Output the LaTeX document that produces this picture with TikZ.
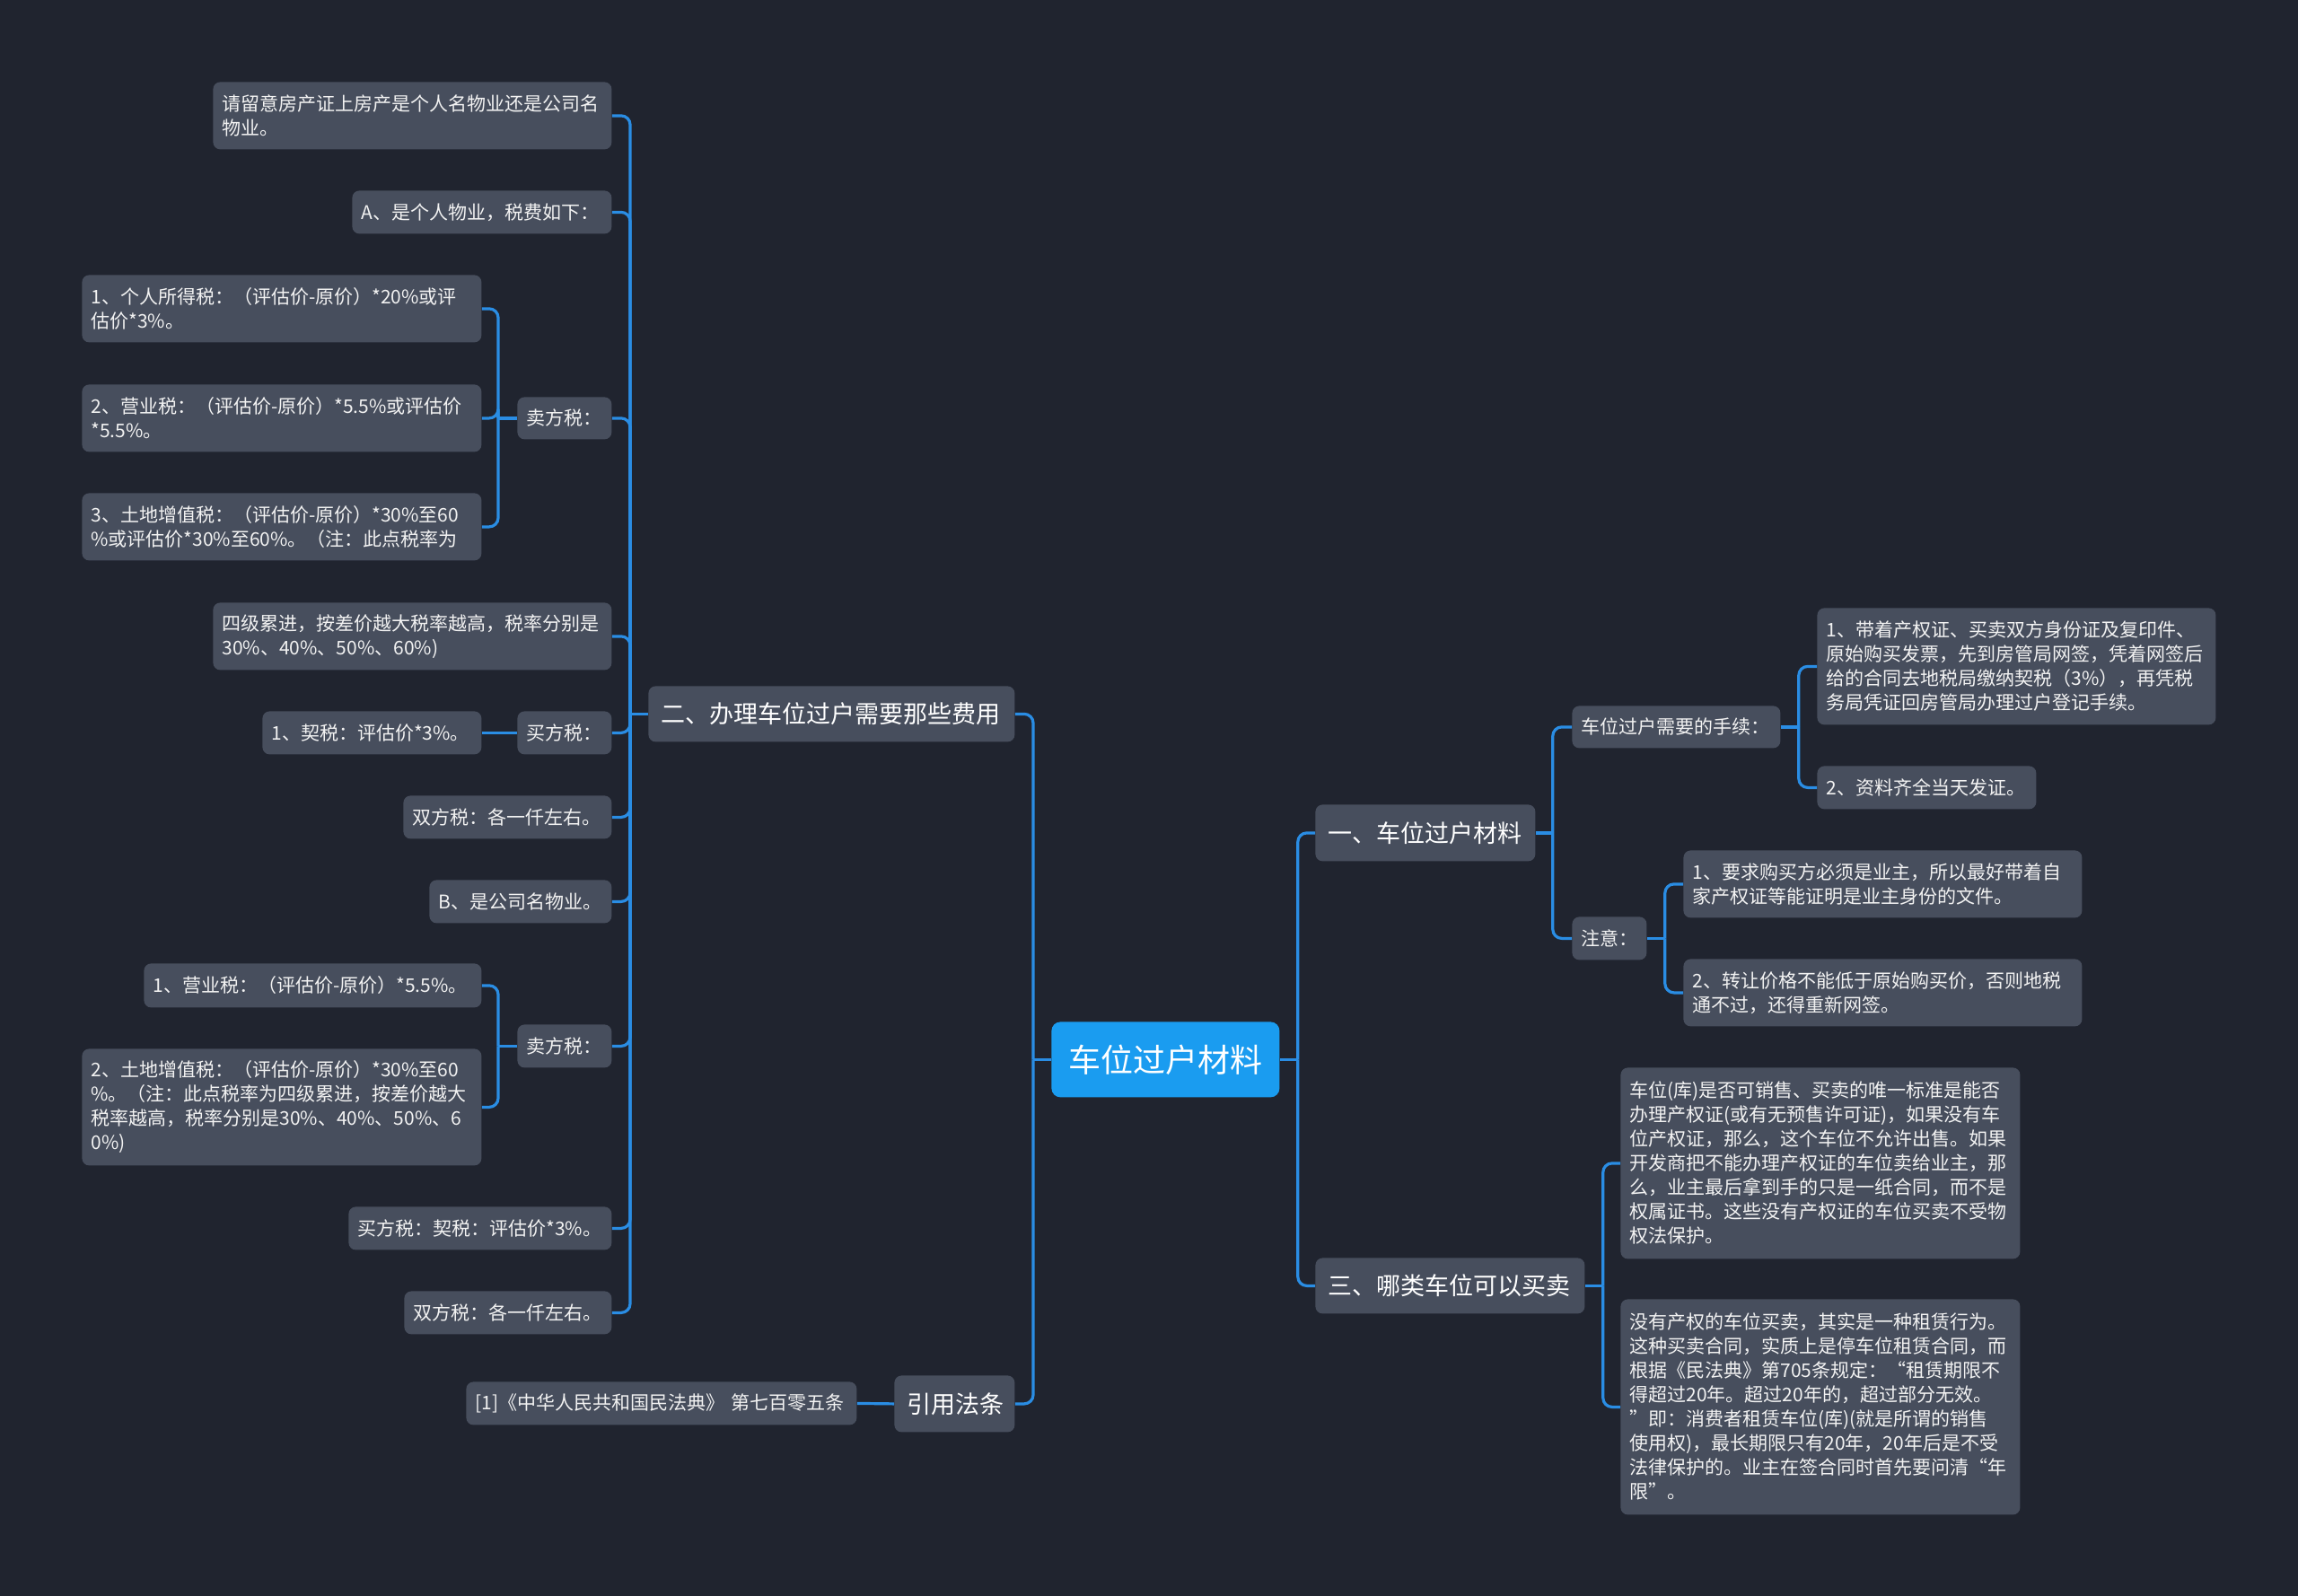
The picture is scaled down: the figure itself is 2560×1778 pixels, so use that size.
\documentclass[tikz,border=0pt]{standalone}
\usepackage{fontspec}
\newfontfamily\cjk{Noto Sans CJK SC}
\definecolor{bgc}{HTML}{20242F}
\definecolor{boxc}{HTML}{474E5D}
\definecolor{rootc}{HTML}{1A9CF0}
\definecolor{linec}{HTML}{2A8DE4}
\definecolor{txtc}{HTML}{F2F2F2}
\begin{document}
\begin{tikzpicture}[x=0.5pt,y=-0.5pt,
  leaf/.style={fill=boxc, rounded corners=4pt, inner xsep=5pt, inner ysep=0pt,
    anchor=north west, text=txtc, align=left,
    font=\cjk\fontsize{10.5}{13.5}\selectfont},
  lvl/.style={fill=boxc, rounded corners=4pt, inner xsep=7pt, inner ysep=0pt,
    anchor=north west, text=white, align=left,
    font=\cjk\fontsize{13.5}{16}\selectfont},
  rootbox/.style={fill=rootc, rounded corners=5pt, inner xsep=9pt, inner ysep=0pt,
    anchor=north west, text=white, align=center,
    font=\cjk\fontsize{18}{22}\selectfont},
  conn/.style={draw=linec, line width=1.6pt, rounded corners=5pt}
]
\fill[bgc] (0,0) rectangle (2560,1778);

% root
\node[rootbox, text width=109pt, minimum height=42pt] (root) at (1171,1138) {车位过户材料};

% level 1
\node[lvl, text width=190pt, minimum height=31pt] (n2) at (722,764) {二、办理车位过户需要那些费用};
\node[lvl, text width=53pt, minimum height=31.5pt] (ny) at (996,1532) {引用法条};
\node[lvl, text width=108.5pt, minimum height=31.5pt] (n1) at (1465,896) {一、车位过户材料};
\node[lvl, text width=136pt, minimum height=31pt] (n3) at (1465,1401) {三、哪类车位可以买卖};

% left side children
\node[leaf, text width=212pt, minimum height=37.5pt] (L1) at (237,91) {请留意房产证上房产是个人名物业还是公司名\\物业。};
\node[leaf, text width=134.5pt, minimum height=24pt] (L2) at (392,212) {A、是个人物业，税费如下：};
\node[leaf, text width=42.5pt, minimum height=23.5pt] (L3) at (576,442) {卖方税：};
\node[leaf, text width=212.5pt, minimum height=37.5pt] (L3a) at (91,306) {1、个人所得税：（评估价-原价）*20\%或评\\估价*3\%。};
\node[leaf, text width=212.5pt, minimum height=37.5pt] (L3b) at (91,428) {2、营业税：（评估价-原价）*5.5\%或评估价\\{}*5.5\%。};
\node[leaf, text width=212.5pt, minimum height=37.5pt] (L3c) at (91,549) {3、土地增值税：（评估价-原价）*30\%至60\\\%或评估价*30\%至60\%。（注：此点税率为};
\node[leaf, text width=212pt, minimum height=37.5pt] (L4) at (237,671) {四级累进，按差价越大税率越高，税率分别是\\30\%、40\%、50\%、60\%)};
\node[leaf, text width=42.5pt, minimum height=24pt] (L5) at (576,792) {买方税：};
\node[leaf, text width=112pt, minimum height=24pt] (L5a) at (292,792) {1、契税：评估价*3\%。};
\node[leaf, text width=106pt, minimum height=24pt] (L6) at (449,886) {双方税：各一仟左右。};
\node[leaf, text width=91.5pt, minimum height=24pt] (L7) at (478,980) {B、是公司名物业。};
\node[leaf, text width=42.5pt, minimum height=24pt] (L8) at (576,1141) {卖方税：};
\node[leaf, text width=178pt, minimum height=24.5pt] (L8a) at (160,1073) {1、营业税：（评估价-原价）*5.5\%。};
\node[leaf, text width=212.5pt, minimum height=65pt] (L8b) at (91,1168) {2、土地增值税：（评估价-原价）*30\%至60\\\%。（注：此点税率为四级累进，按差价越大\\税率越高，税率分别是30\%、40\%、50\%、6\\0\%)};
\node[leaf, text width=136.5pt, minimum height=24pt] (L9) at (388,1344) {买方税：契税：评估价*3\%。};
\node[leaf, text width=105.5pt, minimum height=24pt] (L10) at (450,1438) {双方税：各一仟左右。};
\node[leaf, text width=207.5pt, minimum height=24pt] (cite) at (519,1539) {[1]《中华人民共和国民法典》 第七百零五条};

% right side children
\node[leaf, text width=106pt, minimum height=23.5pt] (sx) at (1751,786) {车位过户需要的手续：};
\node[leaf, text width=31.5pt, minimum height=24pt] (zy) at (1751,1021) {注意：};
\node[leaf, text width=212pt, minimum height=65pt] (R1) at (2024,677) {1、带着产权证、买卖双方身份证及复印件、\\原始购买发票，先到房管局网签，凭着网签后\\给的合同去地税局缴纳契税（3\%），再凭税\\务局凭证回房管局办理过户登记手续。};
\node[leaf, text width=112pt, minimum height=24pt] (R2) at (2024,853) {2、资料齐全当天发证。};
\node[leaf, text width=212pt, minimum height=37.5pt] (R3) at (1875,947) {1、要求购买方必须是业主，所以最好带着自\\家产权证等能证明是业主身份的文件。};
\node[leaf, text width=212pt, minimum height=37.5pt] (R4) at (1875,1068) {2、转让价格不能低于原始购买价，否则地税\\通不过，还得重新网签。};
\node[leaf, text width=212.5pt, minimum height=106.5pt] (R5) at (1805,1189) {车位(库)是否可销售、买卖的唯一标准是能否\\办理产权证(或有无预售许可证)，如果没有车\\位产权证，那么，这个车位不允许出售。如果\\开发商把不能办理产权证的车位卖给业主，那\\么，业主最后拿到手的只是一纸合同，而不是\\权属证书。这些没有产权证的车位买卖不受物\\权法保护。};
\node[leaf, text width=212.5pt, minimum height=120pt] (R6) at (1805,1447) {没有产权的车位买卖，其实是一种租赁行为。\\这种买卖合同，实质上是停车位租赁合同，而\\根据《民法典》第705条规定：“租赁期限不\\得超过20年。超过20年的，超过部分无效。\\”即：消费者租赁车位(库)(就是所谓的销售\\使用权)，最长期限只有20年，20年后是不受\\法律保护的。业主在签合同时首先要问清“年\\限”。};

% trunk coordinates
\path (root.west) ++(-20,0) coordinate (t0);
\path (root.east) ++(20,0) coordinate (tr);
\path (n2.west) ++(-20,0) coordinate (t2);
\path (L3.west) ++(-21,0) coordinate (t3);
\path (L8.west) ++(-21,0) coordinate (t8);
\path (n1.east) ++(19,0) coordinate (t1);
\path (sx.east) ++(20,0) coordinate (tk);
\path (zy.east) ++(20,0) coordinate (tz);
\path (n3.east) ++(20,0) coordinate (t3r);

% connectors
\draw[conn] (root.west) -- (t0);
\draw[conn] (t0) |- (n2.east);
\draw[conn] (t0) |- (ny.east);
\draw[conn] (ny.west) -- (cite.east);

\draw[conn] (n2.west) -- (t2);
\foreach \c in {L1,L2,L3,L4,L5,L6,L7,L8,L9,L10} \draw[conn] (t2) |- (\c.east);
\draw[conn] (L3.west) -- (t3);
\foreach \c in {L3a,L3b,L3c} \draw[conn] (t3) |- (\c.east);
\draw[conn] (L5.west) -- (L5a.east);
\draw[conn] (L8.west) -- (t8);
\foreach \c in {L8a,L8b} \draw[conn] (t8) |- (\c.east);

\draw[conn] (root.east) -- (tr);
\draw[conn] (tr) |- (n1.west);
\draw[conn] (tr) |- (n3.west);
\draw[conn] (n1.east) -- (t1);
\draw[conn] (t1) |- (sx.west);
\draw[conn] (t1) |- (zy.west);
\draw[conn] (sx.east) -- (tk);
\draw[conn] (tk) |- (R1.west);
\draw[conn] (tk) |- (R2.west);
\draw[conn] (zy.east) -- (tz);
\draw[conn] (tz) |- (R3.west);
\draw[conn] (tz) |- (R4.west);
\draw[conn] (n3.east) -- (t3r);
\draw[conn] (t3r) |- (R5.west);
\draw[conn] (t3r) |- (R6.west);
\end{tikzpicture}
\end{document}
